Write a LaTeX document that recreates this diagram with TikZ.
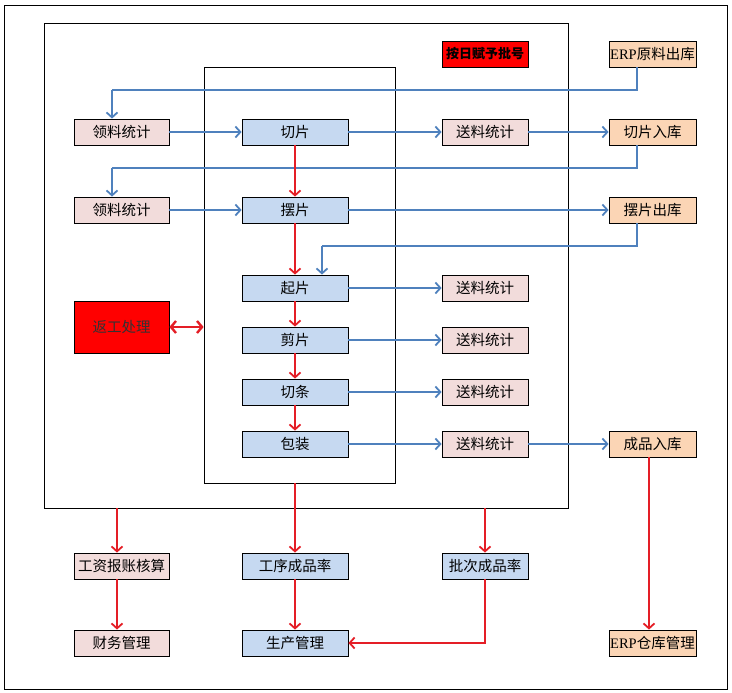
\documentclass[tikz,border=0pt]{standalone}
\usepackage{fontspec}
\setmainfont{Liberation Serif}
\newfontfamily\cjk{Noto Sans CJK SC}
\usetikzlibrary{arrows.meta}

\definecolor{liaoBg}{HTML}{F2DCDB}
\definecolor{gongBg}{HTML}{C6D9F1}
\definecolor{kuBg}{HTML}{FBD5B5}
\definecolor{fanBg}{HTML}{FF0000}
\definecolor{lanLine}{HTML}{4F81BD}
\definecolor{hongLine}{HTML}{E41E26}

\tikzset{
  box/.style={draw=black,line width=0.8pt,inner sep=0pt,minimum height=26,
    font=\cjk\fontsize{14.5}{14.5}\selectfont},
  liaobox/.style={box,fill=liaoBg,minimum width=95},
  gongbox/.style={box,fill=gongBg,minimum width=106},
  songbox/.style={box,fill=liaoBg,minimum width=86},
  kubox/.style={box,fill=kuBg,minimum width=87},
  lanarrow/.style={draw=lanLine,line width=1.8pt,-{Straight Barb[length=5pt,width=11pt]}},
  lanline/.style={draw=lanLine,line width=1.8pt},
  hongarrow/.style={draw=hongLine,line width=1.8pt,-{Straight Barb[length=5pt,width=11pt]}},
  hongboth/.style={draw=hongLine,line width=2.4pt,{Straight Barb[length=5pt,width=12pt]}-{Straight Barb[length=5pt,width=12pt]}},
  frame/.style={draw=black,line width=0.8pt,inner sep=0pt}
}

\begin{document}
\begin{tikzpicture}[x=1pt,y=-1pt]
\useasboundingbox (0,0) rectangle (732,693);

% frames
\node[frame,minimum width=723,minimum height=684] (rim) at (365.5,347) {};
\node[frame,minimum width=524,minimum height=485] (outer) at (306,265.5) {};
\node[frame,minimum width=191,minimum height=416] (inner) at (299.5,275) {};

% top row
\node[box,fill=fanBg,minimum width=86,font=\cjk\bfseries\fontsize{13}{13}\selectfont] (pihao) at (485,54) {按日赋予批号};
\node[kubox] (erpout) at (652.5,54) {{\rmfamily ERP}原料出库};

% A
\node[liaobox] (lingliao1) at (121.5,132) {领料统计};
\node[gongbox] (qiepian) at (295,132) {切片};
\node[songbox] (song1) at (485,132) {送料统计};
\node[kubox] (qiepianku) at (652.5,132) {切片入库};

% B
\node[liaobox] (lingliao2) at (121.5,210) {领料统计};
\node[gongbox] (baipian) at (295,210) {摆片};
\node[kubox] (baipianku) at (652.5,210) {摆片出库};

% process chain
\node[gongbox] (qipian) at (295,288) {起片};
\node[gongbox] (jianpian) at (295,340) {剪片};
\node[gongbox] (qietiao) at (295,392) {切条};
\node[gongbox] (baozhuang) at (295,444) {包装};

\node[songbox] (song2) at (485,288) {送料统计};
\node[songbox] (song3) at (485,340) {送料统计};
\node[songbox] (song4) at (485,392) {送料统计};
\node[songbox] (song5) at (485,444) {送料统计};
\node[kubox] (chengpin) at (652.5,444) {成品入库};

\node[box,fill=fanBg,minimum width=95,minimum height=52,text=black!80] (fangong) at (121.5,327) {返工处理};

% bottom
\node[liaobox] (gongzi) at (121.5,566) {工资报账核算};
\node[gongbox] (gongxu) at (295,566) {工序成品率};
\node[songbox,fill=gongBg] (pici) at (485,566) {批次成品率};
\node[liaobox] (caiwu) at (121.5,643) {财务管理};
\node[gongbox] (shengchan) at (295,643) {生产管理};
\node[kubox] (erpck) at (652.5,643) {{\rmfamily ERP}仓库管理};

% feedback lines
\coordinate (r1) at (637,90);
\coordinate (l1) at (112,90);
\coordinate (r2) at (637,168);
\coordinate (l2) at (112,168);
\coordinate (r3) at (637,246);
\coordinate (l3) at (322,246);

\draw[lanline] (r1 |- erpout.south) -- (r1) -- (l1);
\draw[lanarrow] (l1) -- (l1 |- lingliao1.north);
\draw[lanline] (r2 |- qiepianku.south) -- (r2) -- (l2);
\draw[lanarrow] (l2) -- (l2 |- lingliao2.north);
\draw[lanline] (r3 |- baipianku.south) -- (r3) -- (l3);
\draw[lanarrow] (l3) -- (l3 |- qipian.north);

% blue flow
\draw[lanarrow] (lingliao1) -- (qiepian);
\draw[lanarrow] (qiepian) -- (song1);
\draw[lanarrow] (song1) -- (qiepianku);
\draw[lanarrow] (lingliao2) -- (baipian);
\draw[lanarrow] (baipian) -- (baipianku);
\draw[lanarrow] (qipian) -- (song2);
\draw[lanarrow] (jianpian) -- (song3);
\draw[lanarrow] (qietiao) -- (song4);
\draw[lanarrow] (baozhuang) -- (song5);
\draw[lanarrow] (song5) -- (chengpin);

% red flow
\draw[hongarrow] (qiepian) -- (baipian);
\draw[hongarrow] (baipian) -- (qipian);
\draw[hongarrow] (qipian) -- (jianpian);
\draw[hongarrow] (jianpian) -- (qietiao);
\draw[hongarrow] (qietiao) -- (baozhuang);
\draw[hongboth] (fangong.east) -- (fangong.east -| inner.west);

\coordinate (gx) at (117,566);
\coordinate (cx) at (649,566);
\draw[hongarrow] (outer.south -| gx) -- (gx |- gongzi.north);
\draw[hongarrow] (inner.south -| gongxu.north) -- (gongxu);
\draw[hongarrow] (outer.south -| pici.north) -- (pici);
\draw[hongarrow] (gx |- gongzi.south) -- (gx |- caiwu.north);
\draw[hongarrow] (gongxu) -- (shengchan);
\draw[hongarrow] (pici.south) |- (shengchan.east);
\draw[hongarrow] (cx |- chengpin.south) -- (cx |- erpck.north);
\end{tikzpicture}
\end{document}
